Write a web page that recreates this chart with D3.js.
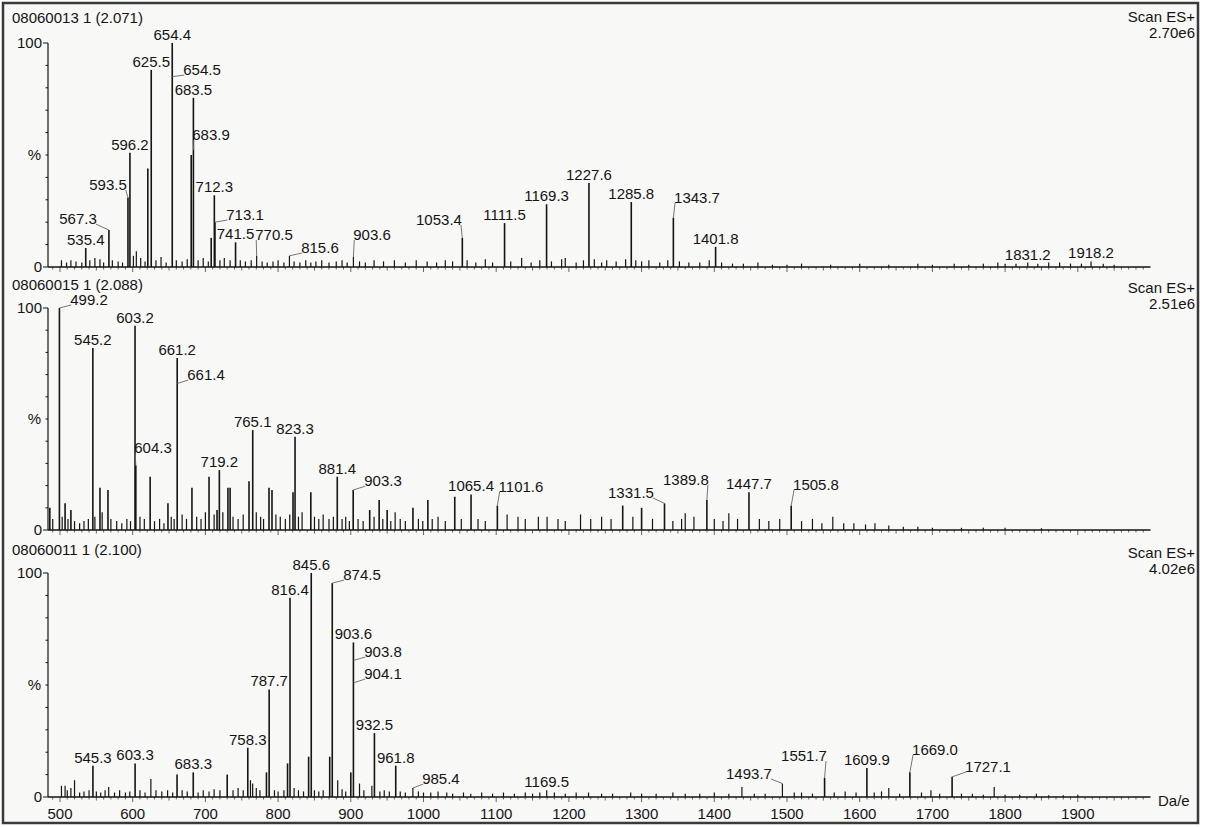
<!DOCTYPE html>
<html><head><meta charset="utf-8">
<script src="https://cdn.jsdelivr.net/npm/d3@7"></script>
<style>
html,body{margin:0;padding:0;background:#fff;}
svg text{font-family:"Liberation Sans",Arial,sans-serif;fill:#141414;}
</style></head><body>
<svg id="c" width="1205" height="827"></svg>
<script>
// ---------- DATA ----------
const xTickLabels = [500,600,700,800,900,1000,1100,1200,1300,1400,1500,1600,1700,1800,1900];
const panelTitles = ["08060013 1 (2.071)", "08060015 1 (2.088)", "08060011 1 (2.100)"];
const panelScans = ["2.70e6", "2.51e6", "4.02e6"];
const yLabels = ["0", "%", "100"];
const xUnit = "Da/e";

// panel 1 peaks [m/z, %]
const peaks1 = [
 [535.4,8.5],[567.3,16.5],[593.5,31],[596.2,51],[620.8,44],[625.5,88],[654.4,100],[680.5,50],[683.5,75.5],
 [708,13],[712.3,32],[713.1,20],[741.5,11],[770.5,5],[815.6,5],[903.6,4.5],[1053.4,13],[1111.5,19.6],
 [1169.3,28],[1227.6,37.5],[1285.8,29],[1343.7,22],[1401.8,9],[1460,2],[1831.2,2],[1918.2,2.5],
 [502,3],[509,2],[515,3],[522,2.5],[530,2],[541,3],[548,4],[555,3.5],[560,2],[572,3],[580,2.5],[586,2],
 [601,5],[605,7],[611,4],[617,2.5],[632,3],[639,4.5],[646,2],[660,3],[668,2.5],[675,3.5],[690,3],[697,4],
 [704,2.5],[720,3],[726,4],[734,3],[748,3],[755,2.5],[763,3],[778,2.5],[785,2],[793,2.5],[800,3],[808,2],
 [822,2.5],[830,2],[838,3],[845,2],[852,2.5],[860,3],[870,2],[880,2.5],[888,3],[895,2],[912,2.5],[920,2],
 [932,3],[945,2.5],[960,3],[975,2],[990,3],[1005,2.5],[1018,2],[1030,3],[1040,2.5],[1060,3],[1072,2],
 [1085,3.5],[1095,2],[1120,2.5],[1135,4],[1148,2],[1160,3],[1176,2.5],[1190,3.5],[1195,4],[1210,2],[1220,3],
 [1235,3.5],[1245,2],[1252,3],[1265,2.5],[1278,3.5],[1292,3],[1300,2.5],[1310,3],[1325,2],[1336,3],[1352,2.5],
 [1365,2],[1380,2],[1393,3],[1410,2],[1425,1.5],[1440,1.5],[1480,1],[1500,1],[1520,1.5],[1560,1],[1600,1.5],
 [1640,1],[1680,1.5],[1700,1],[1730,1.5],[1750,1],[1770,1.5],[1790,2],[1800,1.5],[1815,1.5],[1845,1.5],
 [1860,2],[1875,2],[1890,1.5],[1905,1.5],[1935,1.5],[1950,1]
];
// labels: t = text, mz/pct = point on the peak; lmz/lpct = label centre when a leader line is used
const labels1 = [
 {t:"654.4",mz:654.4,pct:100},{t:"625.5",mz:625.5,pct:88},{t:"683.5",mz:683.5,pct:75.5},
 {t:"596.2",mz:596.2,pct:51},{t:"712.3",mz:712.3,pct:32},{t:"535.4",mz:535.4,pct:8.5},
 {t:"741.5",mz:741.5,pct:11},{t:"1111.5",mz:1111.5,pct:19.6},{t:"1169.3",mz:1169.3,pct:28},
 {t:"1227.6",mz:1227.6,pct:37.5},{t:"1285.8",mz:1285.8,pct:29},{t:"1401.8",mz:1401.8,pct:9},
 {t:"1831.2",mz:1831.2,pct:2},{t:"1918.2",mz:1918.2,pct:2.5},
 {t:"654.5",mz:654.5,pct:85,lmz:695.3,lpct:87.9},{t:"683.9",mz:683.9,pct:52,lmz:707.7,lpct:58.9},
 {t:"593.5",mz:593.5,pct:31,lmz:566,lpct:36.6},{t:"713.1",mz:713.1,pct:20,lmz:754.5,lpct:23.2},
 {t:"567.3",mz:567.3,pct:16.5,lmz:524.8,lpct:21.4},{t:"770.5",mz:770.5,pct:5,lmz:794.4,lpct:14.3},
 {t:"815.6",mz:815.6,pct:5,lmz:857.6,lpct:8.5},{t:"903.6",mz:903.6,pct:4.5,lmz:929.2,lpct:14.3},
 {t:"1053.4",mz:1053.4,pct:13,lmz:1021.3,lpct:21},{t:"1343.7",mz:1343.7,pct:22,lmz:1376.2,lpct:30.8}
];

// panel 2 peaks
const peaks2 = [
 [486,10],[490,5],[499.2,100],[507,12],[515,9],[545.2,82],[555,19],[566,18],[603.2,92],[604.3,29],[624,24],
 [648.5,12],[661.2,77.5],[681.5,19],[705,24],[719.2,27],[731,19],[734,19],[760,22],[765.1,45],[787.5,19],
 [791.6,18],[820.5,17],[823.3,42],[845,17],[881.4,24],[903.3,18],[926,9],[939,13.5],[950,9],[961,8],
 [985.5,10],[1006,13.5],[1043,15],[1065.4,16],[1101.6,11],[1130,6],[1158,6],[1216,7],[1274,11],[1300,10],
 [1331.5,12],[1360,7.5],[1389.8,13.5],[1420,7.5],[1447.7,17],[1505.8,11],[1563,6],[1621,3],
 [503,6],[511,5],[520,4],[527,3],[533,4],[539,5],[548,6],[558,8],[570,5],[578,4],[585,3],[592,5],[597,4],
 [610,6],[616,5],[630,4],[637,5],[643,3],[653,6],[657,5],[668,7],[674,5],[688,6],[694,5],[700,8],[712,7],
 [716,9],[724,8],[738,6],[745,5],[752,7],[770,8],[776,6],[780,5],[797,7],[803,6],[810,5],[816,7],[828,6],
 [833,8],[850,6],[856,5],[862,7],[870,5],[876,6],[888,5],[893,6],[898,4],[910,5],[917,4],[932,6],[944,5],
 [955,4],[968,5],[975,4],[993,5],[999,4],[1012,5],[1020,6],[1030,4],[1052,5],[1075,5],[1085,4],[1115,7],
 [1140,5],[1170,6],[1185,5],[1195,4],[1230,5],[1245,6],[1258,5],[1288,6],[1315,5],[1343,4],[1355,5],
 [1372,6],[1400,5],[1412,4],[1432,5],[1462,5],[1475,4],[1490,5],[1520,4],[1535,5],[1548,3],[1578,3],
 [1592,3],[1608,2.5],[1640,2],[1660,1.5],[1680,1.5],[1700,1],[1740,1],[1770,1],[1800,1],[1850,0.8]
];
const labels2 = [
 {t:"545.2",mz:545.2,pct:82},{t:"603.2",mz:603.2,pct:92},{t:"661.2",mz:661.2,pct:77.5},
 {t:"719.2",mz:719.2,pct:27},{t:"765.1",mz:765.1,pct:45},{t:"823.3",mz:823.3,pct:42},
 {t:"881.4",mz:881.4,pct:24},{t:"1065.4",mz:1065.4,pct:16},{t:"1447.7",mz:1447.7,pct:17},
 {t:"499.2",mz:499.2,pct:100,lmz:539.9,lpct:103.6},{t:"604.3",mz:604.3,pct:29,lmz:627.9,lpct:36.9},
 {t:"661.4",mz:661.4,pct:66,lmz:700.8,lpct:69.8},{t:"903.3",mz:903.3,pct:18,lmz:944.3,lpct:22},
 {t:"1101.6",mz:1101.6,pct:11,lmz:1134.1,lpct:19.4},{t:"1331.5",mz:1331.5,pct:12,lmz:1285.4,lpct:16.7},
 {t:"1389.8",mz:1389.8,pct:13.5,lmz:1361,lpct:22.5},{t:"1505.8",mz:1505.8,pct:11,lmz:1539.9,lpct:20.3}
];

// panel 3 peaks
const peaks3 = [
 [502,5],[507,5],[520,7.5],[545.3,14],[567,4.5],[603.3,15],[625,8],[661,10],[683.3,11],[730,10],[758.3,22],
 [762,7.5],[765,6],[784,11],[787.7,48],[813,15],[816.4,89],[842,18],[845.6,100],[871,18],[874.5,95.5],
 [882,7.5],[900,11],[903.6,69],[912,6],[929,5],[932.5,28.5],[961.8,14],[985.4,4],[1169.5,3],[1438,4.5],
 [1493.7,6],[1551.7,8.5],[1609.9,13],[1640,4],[1669.0,11],[1698,3],[1727.1,9],[1785,4.5],[1843,1.5],[1900,1],
 [510,3],[515,4],[527,2],[533,2.5],[540,3],[550,2.5],[556,2],[562,3],[575,2],[582,3],[590,2],[596,2.5],
 [610,3],[617,2],[632,3],[640,2.5],[648,3],[655,2],[668,3],[675,2.5],[690,2],[697,3],[705,2.5],[712,3.5],
 [720,3],[738,3],[745,4],[752,3],[770,4],[775,3],[795,3],[800,2.5],[808,3],[822,4],[828,3],[835,2.5],
 [850,3],[856,2.5],[862,3],[888,3.5],[893,2.5],[918,3],[940,2.5],[946,3],[953,2.5],[968,2.5],[975,2],
 [993,2.5],[1000,2],[1010,2],[1020,2.5],[1032,2],[1040,1.5],[1055,2],[1065,1.5],[1080,2],[1095,1.5],
 [1110,2],[1125,1.5],[1140,2],[1150,1.5],[1160,2],[1180,2],[1195,1.5],[1210,2],[1227,2],[1245,1.5],
 [1260,1.5],[1285,2],[1300,1.5],[1320,1.5],[1343,2],[1360,1.5],[1380,1.5],[1400,2],[1420,1.5],[1455,1.5],
 [1470,1.5],[1510,2],[1520,2],[1535,1.5],[1565,2],[1580,2.5],[1595,2],[1620,2],[1630,2.5],[1655,1.5],
 [1685,2],[1710,1.5],[1740,1.5],[1755,1.5],[1770,1],[1800,1],[1820,1],[1860,0.8],[1880,0.8]
];
const labels3 = [
 {t:"845.6",mz:845.6,pct:100},{t:"816.4",mz:816.4,pct:89},{t:"903.6",mz:903.6,pct:69},
 {t:"787.7",mz:787.7,pct:48},{t:"758.3",mz:758.3,pct:22},{t:"932.5",mz:932.5,pct:28.5},
 {t:"961.8",mz:961.8,pct:14},{t:"545.3",mz:545.3,pct:14},{t:"603.3",mz:603.3,pct:15},
 {t:"683.3",mz:683.3,pct:11},{t:"1169.5",mz:1169.5,pct:3},{t:"1609.9",mz:1609.9,pct:13},
 {t:"874.5",mz:874.5,pct:95.5,lmz:915.4,lpct:99.1},{t:"903.8",mz:903.8,pct:61,lmz:944.3,lpct:64.7},
 {t:"904.1",mz:904.1,pct:51,lmz:944.3,lpct:54.9},{t:"985.4",mz:985.4,pct:4,lmz:1024,lpct:8},
 {t:"1493.7",mz:1493.7,pct:6,lmz:1447.7,lpct:10.3},{t:"1551.7",mz:1551.7,pct:8.5,lmz:1523.4,lpct:18.3},
 {t:"1669.0",mz:1669.0,pct:11,lmz:1703.6,lpct:21},{t:"1727.1",mz:1727.1,pct:9,lmz:1776.5,lpct:13.4}
];

// ---------- DRAW ----------
const svg = d3.select("#c");
const W = 1205, H = 827;
svg.append("rect").attr("x",0).attr("y",0).attr("width",W).attr("height",H).attr("fill","#ffffff");
svg.append("rect").attr("x",3).attr("y",3).attr("width",1195).attr("height",820)
  .attr("fill","#f8f8f6").attr("stroke","#3a3a3a").attr("stroke-width",2.5);

const x = d3.scaleLinear().domain([483.5, 2000]).range([48, 1150.5]);

const layout = [
  {y0:267, y100:43, titleY:18, scanY:17},
  {y0:530, y100:308, titleY:285, scanY:288},
  {y0:797, y100:573, titleY:550, scanY:553}
];
const allPeaks = [peaks1, peaks2, peaks3];
const allLabels = [labels1, labels2, labels3];
const FS = 15;
const ink = "#141414";

layout.forEach((L, i) => {
  const y = d3.scaleLinear().domain([0,100]).range([L.y0, L.y100]);
  const g = svg.append("g");

  // title and scan info
  g.append("text").attr("x",12).attr("y",L.titleY+5).attr("font-size",FS).text(panelTitles[i]);
  g.append("text").attr("x",1195).attr("y",L.scanY+5).attr("font-size",FS).attr("text-anchor","end").text("Scan ES+");
  g.append("text").attr("x",1195).attr("y",L.scanY+21).attr("font-size",FS).attr("text-anchor","end").text(panelScans[i]);

  // y axis
  g.append("line").attr("x1",48).attr("x2",48).attr("y1",y(0)).attr("y2",y(100))
    .attr("stroke",ink).attr("stroke-width",1.2);
  g.selectAll(".yt").data(d3.range(0,101,10)).join("line")
    .attr("x1", d => (d===0||d===100) ? 43 : 45.5).attr("x2",48)
    .attr("y1", d => y(d)).attr("y2", d => y(d))
    .attr("stroke",ink).attr("stroke-width",1);
  g.append("text").attr("x",42).attr("y",y(100)+5).attr("font-size",FS).attr("text-anchor","end").text(yLabels[2]);
  g.append("text").attr("x",42).attr("y",y(0)+5).attr("font-size",FS).attr("text-anchor","end").text(yLabels[0]);
  g.append("text").attr("x",41).attr("y",y(50)+5).attr("font-size",FS).attr("text-anchor","end").text(yLabels[1]);

  // x ticks
  g.selectAll(".xt").data(d3.range(490, 2000, 10)).join("line")
    .attr("x1", d => x(d)).attr("x2", d => x(d))
    .attr("y1", L.y0).attr("y2", d => L.y0 + (d % 100 === 0 ? 5 : (d % 50 === 0 ? 3.5 : 2.5)))
    .attr("stroke","#555").attr("stroke-width",0.9);

  // peaks
  g.selectAll(".pk").data(allPeaks[i]).join("line")
    .attr("x1", d => x(d[0])).attr("x2", d => x(d[0]))
    .attr("y1", y(0)).attr("y2", d => y(d[1]))
    .attr("stroke",ink).attr("stroke-width", d => d[1] > 8 ? 1.6 : 1.2);

  // baseline
  g.append("line").attr("x1",48).attr("x2",1150.5).attr("y1",y(0)).attr("y2",y(0))
    .attr("stroke",ink).attr("stroke-width",1.6);

  // labels
  allLabels[i].forEach(l => {
    const px = x(l.mz), py = y(l.pct);
    if (l.lmz === undefined) {
      g.append("text").attr("x",px).attr("y",py-3).attr("font-size",FS)
        .attr("text-anchor","middle").text(l.t);
    } else {
      const cx = x(l.lmz), cy = y(l.lpct);
      const t = g.append("text").attr("x",cx).attr("y",cy+5).attr("font-size",FS)
        .attr("text-anchor","middle").text(l.t);
      const w = t.node().getComputedTextLength();
      const sx = cx > px ? cx - w/2 + 1 : cx + w/2 - 1;
      g.append("line").attr("x1",sx).attr("y1",cy+5).attr("x2",px).attr("y2",py)
        .attr("stroke","#666").attr("stroke-width",0.9);
    }
  });

  if (i === 2) {
    g.selectAll(".xl").data(xTickLabels).join("text")
      .attr("x", d => x(d)).attr("y", L.y0 + 22).attr("font-size",FS)
      .attr("text-anchor","middle").text(d => d);
    g.append("text").attr("x",1158).attr("y",L.y0+9).attr("font-size",FS).text(xUnit);
  }
});
</script>
</body></html>
